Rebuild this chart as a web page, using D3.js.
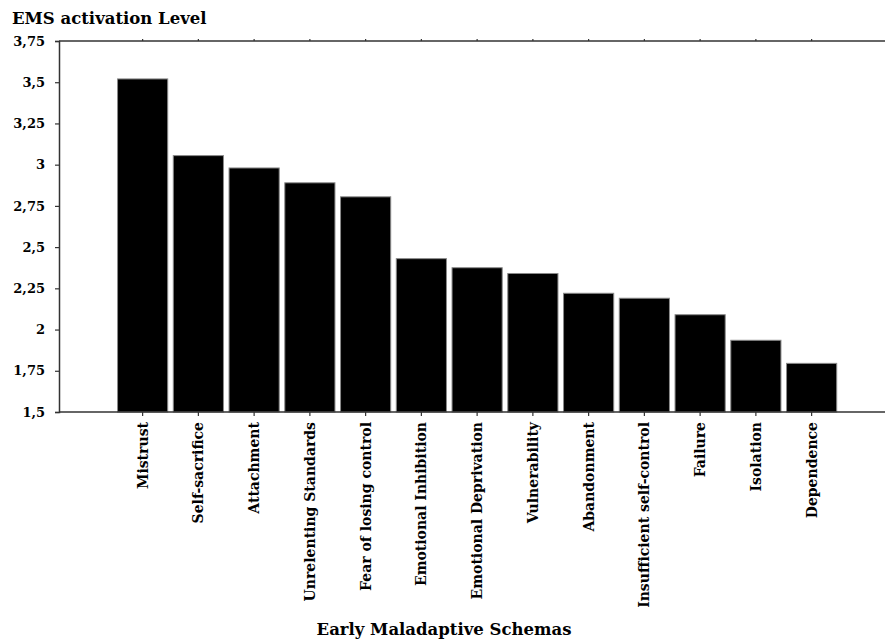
<!DOCTYPE html>
<html>
<head>
<meta charset="utf-8">
<script src="https://cdn.jsdelivr.net/npm/d3@7"></script>
<style>
  html, body { margin: 0; padding: 0; background: #fff; }
  svg { display: block; }
  text { font-family: "DejaVu Serif", "Liberation Serif", serif; font-weight: bold; fill: #000; }
</style>
</head>
<body>
<svg id="chart" width="885" height="644"></svg>
<script>
const categories = [
  "Mistrust", "Self-sacrifice", "Attachment", "Unrelenting Standards",
  "Fear of losing control", "Emotional Inhibition", "Emotional Deprivation",
  "Vulnerability", "Abandonment", "Insufficient self-control", "Failure",
  "Isolation", "Dependence"
];
const values = [3.52, 3.055, 2.98, 2.89, 2.805, 2.43, 2.375, 2.34, 2.22, 2.19, 2.09, 1.935, 1.795];
const yTicks = [1.5, 1.75, 2, 2.25, 2.5, 2.75, 3, 3.25, 3.5, 3.75];
const yTitle = "EMS activation Level";
const xTitle = "Early Maladaptive Schemas";

(function () {
const svg = d3.select("#chart");
const mLeft = 59, mRight = 885, mTop = 41, mBottom = 412;
const step = 55.75;

const y = d3.scaleLinear().domain([1.5, 3.75]).range([mBottom, mTop]);
const x = d3.scaleBand().domain(categories)
  .range([mLeft + step, mLeft + 14 * step])
  .paddingInner(0.1).paddingOuter(0.05);

const fmt = d => String(d).replace(".", ",");

// bars
svg.append("g").selectAll("rect").data(categories).join("rect")
  .attr("x", d => x(d))
  .attr("width", x.bandwidth())
  .attr("y", (d, i) => y(values[i]))
  .attr("height", (d, i) => y(1.5) - y(values[i]))
  .attr("fill", "#000")
  .attr("stroke", "#8a8a8a")
  .attr("stroke-width", 1);

// left axis
const yAxis = svg.append("g").attr("transform", `translate(${mLeft},0)`)
  .call(d3.axisLeft(y).tickValues(yTicks).tickFormat(fmt).tickSize(4).tickPadding(10));
yAxis.select(".domain").attr("stroke", "#333").attr("stroke-width", 1.5);
yAxis.selectAll(".tick line").attr("stroke", "#333").attr("stroke-width", 1.2);
yAxis.selectAll(".tick text").attr("font-size", 13).attr("font-family", "DejaVu Serif").attr("font-weight", "bold").attr("fill", "#000");

// bottom axis
const xAxis = svg.append("g").attr("transform", `translate(0,${mBottom})`)
  .call(d3.axisBottom(x).tickSize(4).tickSizeOuter(0).tickFormat(""));
xAxis.select(".domain").attr("stroke", "#333").attr("stroke-width", 1.5)
  .attr("d", `M${mLeft},0H${mRight}`);
xAxis.selectAll(".tick line").attr("stroke", "#333").attr("stroke-width", 1.2);

// top axis
const xTop = svg.append("g").attr("transform", `translate(0,${mTop})`)
  .call(d3.axisTop(x).tickSize(2).tickSizeOuter(0).tickFormat(""));
xTop.select(".domain").attr("stroke", "#333").attr("stroke-width", 1.5)
  .attr("d", `M${mLeft},0H${mRight}`);
xTop.selectAll(".tick line").attr("stroke", "#333").attr("stroke-width", 1.2);

// category labels (rotated)
svg.append("g").selectAll("text").data(categories).join("text")
  .attr("transform", d => `translate(${x(d) + x.bandwidth() / 2},${mBottom + 10}) rotate(-90)`)
  .attr("text-anchor", "end")
  .attr("dy", "0.36em")
  .attr("font-size", 14)
  .text(d => d);

// titles
svg.append("text").attr("x", 12).attr("y", 24).attr("font-size", 16.5).text(yTitle);
svg.append("text").attr("x", 444).attr("y", 635).attr("text-anchor", "middle").attr("font-size", 16.5).text(xTitle);
})();
</script>
</body>
</html>
